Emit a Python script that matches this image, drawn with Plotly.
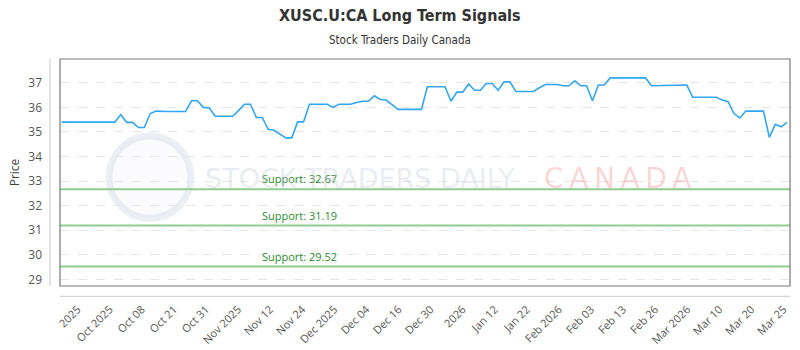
import plotly.graph_objects as go
import numpy as np

# ---- data ----
prices = [
    35.4, 35.4, 35.4, 35.4, 35.4, 35.4, 35.4, 35.4, 35.4, 35.4,
    35.71, 35.39, 35.39, 35.18, 35.18, 35.75, 35.85,
    35.83, 35.83, 35.83, 35.83, 35.83,
    36.27, 36.27, 36.0, 35.98,
    35.64, 35.64, 35.64, 35.64, 35.88, 36.13, 36.13,
    35.59, 35.59, 35.11, 35.07, 34.91, 34.76, 34.76,
    35.41, 35.41, 36.13, 36.13, 36.13, 36.13, 36.0,
    36.13, 36.13, 36.13, 36.2, 36.25, 36.25, 36.47, 36.32, 36.30, 36.11,
    35.92, 35.92, 35.92, 35.92, 35.92,
    36.84, 36.84, 36.84, 36.84, 36.25, 36.62, 36.62, 36.95,
    36.70, 36.70, 36.97, 36.97, 36.70, 37.04, 37.04,
    36.65, 36.65, 36.65, 36.65, 36.80, 36.93, 36.93, 36.93,
    36.88, 36.88, 37.08, 36.88, 36.88, 36.27, 36.91, 36.91,
    37.2, 37.2, 37.2, 37.2, 37.2, 37.2, 37.2,
    36.88, 36.88, 36.88, 36.88, 36.91, 36.91, 36.91,
    36.41, 36.41, 36.41, 36.41, 36.41, 36.30, 36.23, 35.75, 35.57,
    35.85, 35.85, 35.85, 35.85, 34.78, 35.31, 35.21, 35.39,
]
day_index = list(range(len(prices)))

tick_labels = ["2025", "Oct 2025", "Oct 08", "Oct 21", "Oct 31", "Nov 2025",
               "Nov 12", "Nov 24", "Dec 2025", "Dec 04", "Dec 16", "Dec 30",
               "2026", "Jan 12", "Jan 22", "Feb 2026", "Feb 03", "Feb 13",
               "Feb 26", "Mar 2026", "Mar 10", "Mar 20", "Mar 25"]
tick_positions = list(np.linspace(2.7, 122.4, len(tick_labels)))

support_levels = [32.67, 31.19, 29.52]
y_ticks = [29, 30, 31, 32, 33, 34, 35, 36, 37]

# ---- figure ----
fig = go.Figure()
fig.add_trace(go.Scatter(
    x=day_index, y=prices, mode="lines",
    line=dict(color="#33a6f2", width=1.6),
    hoverinfo="skip", showlegend=False,
))

shapes = []
annotations = []

for lvl in support_levels:
    shapes.append(dict(type="line", xref="paper", x0=0, x1=1, yref="y", y0=lvl, y1=lvl,
                       line=dict(color="#8fcc8f", width=2), layer="above"))
    annotations.append(dict(x=33.6, y=lvl, xref="x", yref="y", text=f"Support: {lvl:.2f}",
                            showarrow=False, xanchor="left", yanchor="bottom", yshift=1,
                            font=dict(family="Open Sans", size=11, color="#2e8b2e")))

PW = 730.5
PH = 226.7
# frame
shapes.append(dict(type="rect", xref="paper", yref="paper", x0=0, x1=1, y0=0, y1=1,
                   line=dict(color="#777777", width=1.2), layer="above"))
# outer y axis line
shapes.append(dict(type="line", xref="paper", yref="paper", x0=-10 / PW, x1=-10 / PW, y0=0, y1=1,
                   line=dict(color="#c8c8c8", width=1)))
# outer x axis line
shapes.append(dict(type="line", xref="paper", yref="paper", x0=0, x1=1, y0=-10.3 / PH, y1=-10.3 / PH,
                   line=dict(color="#c8c8c8", width=1)))
# watermark logo ring
cx, cy, r = 150, 177, 41
shapes.append(dict(type="circle", xref="paper", yref="paper",
                   x0=(cx - r - 60) / PW, x1=(cx + r - 60) / PW,
                   y0=(285.7 - (cy + r)) / PH, y1=(285.7 - (cy - r)) / PH,
                   line=dict(color="rgba(200,208,222,0.35)", width=7),
                   fillcolor="rgba(225,230,240,0.15)", layer="below"))

annotations.append(dict(x=(360 - 60) / PW, y=(285.7 - 178) / PH, xref="paper", yref="paper",
                        text="STOCK TRADERS DAILY", showarrow=False, xanchor="center", yanchor="middle",
                        font=dict(family="DejaVu Sans", size=27, color="rgba(185,195,210,0.32)")))
annotations.append(dict(x=(618 - 60) / PW, y=(285.7 - 178) / PH, xref="paper", yref="paper",
                        text="C\u2009A\u2009N\u2009A\u2009D\u2009A", showarrow=False,
                        xanchor="center", yanchor="middle",
                        font=dict(family="DejaVu Sans", size=28, color="rgba(235,110,110,0.28)")))

# title/subtitle
annotations.append(dict(x=(400 - 60) / PW, y=1 + (59 - 16) / PH, xref="paper", yref="paper",
                        text="<b>XUSC.U:CA Long Term Signals</b>", showarrow=False,
                        xanchor="center", yanchor="middle",
                        font=dict(family="DejaVu Sans Condensed", size=16, color="#333333")))
annotations.append(dict(x=(400 - 60) / PW, y=1 + (59 - 40) / PH, xref="paper", yref="paper",
                        text="Stock Traders Daily Canada", showarrow=False,
                        xanchor="center", yanchor="middle",
                        font=dict(family="DejaVu Sans Condensed", size=11.5, color="#333333")))

fig.update_layout(
    width=800, height=350,
    margin=dict(l=60, r=9.5, t=59, b=64.3, autoexpand=False),
    paper_bgcolor="white", plot_bgcolor="white",
    shapes=shapes, annotations=annotations,
    xaxis=dict(range=[-0.3, 123.5], tickvals=tick_positions, ticktext=tick_labels,
               tickangle=-45, showgrid=False, zeroline=False, showline=False,
               ticklabelstandoff=14,
               tickfont=dict(family="Open Sans", size=11, color="#555555")),
    yaxis=dict(range=[28.73, 37.97], tickvals=y_ticks, showgrid=True,
               gridcolor="#e6e6e6", griddash="dash", gridwidth=1, zeroline=False,
               showline=False, ticklabelstandoff=17,
               tickfont=dict(family="Open Sans", size=12, color="#555555"),
               title=dict(text="Price", standoff=6,
                          font=dict(family="Open Sans", size=12, color="#444444"))),
)

fig.write_html("out.html")
